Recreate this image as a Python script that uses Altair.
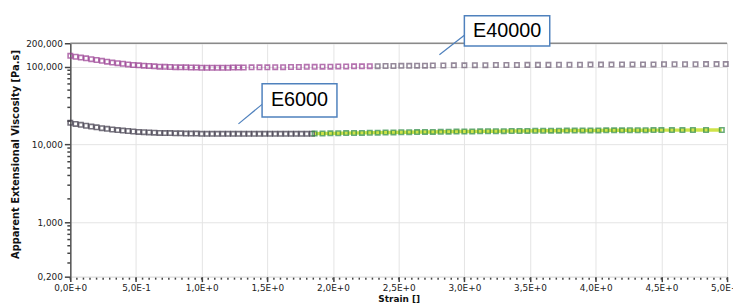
import altair as alt
import pandas as pd

# ---- data ----
strain_e40000 = [0.00, 0.04, 0.08, 0.12, 0.16, 0.20, 0.24, 0.28, 0.32, 0.36, 0.40, 0.44, 0.48, 0.52,
                 0.56, 0.60, 0.64, 0.68, 0.72, 0.76, 0.80, 0.84, 0.88, 0.92, 0.96, 1.00, 1.04, 1.08,
                 1.12, 1.16, 1.20, 1.24, 1.28, 1.32, 1.38, 1.44, 1.50, 1.56, 1.62, 1.68, 1.74, 1.80,
                 1.86, 1.92, 1.98, 2.04, 2.10, 2.16, 2.22, 2.28, 2.34, 2.40, 2.46, 2.52, 2.58, 2.64,
                 2.70, 2.76, 2.84, 2.92, 3.00, 3.08, 3.16, 3.24, 3.32, 3.40, 3.48, 3.56, 3.64, 3.72,
                 3.80, 3.88, 3.96, 4.04, 4.12, 4.20, 4.28, 4.36, 4.44, 4.52, 4.60, 4.68, 4.76, 4.84,
                 4.92, 4.99]
visc_e40000 = [138000, 134000, 131000, 128000, 125000, 122000, 119000, 116000, 113000, 111000,
               109000, 107000, 105000, 104000, 103000, 102000, 101000, 100000, 99500, 99000,
               98500, 98000, 98000, 97500, 97500, 97000, 97000, 97000, 97000, 97000,
               97000, 97500, 97500, 97500, 98000, 98000, 98000, 98500, 98500, 99000,
               99000, 99500, 99500, 100000, 100000, 100500, 100500, 101000, 101000, 101500,
               101500, 102000, 102000, 102500, 102500, 103000, 103000, 103500, 103500, 104000,
               104000, 104500, 104500, 105000, 105000, 105000, 105500, 105500, 105500, 106000,
               106000, 106000, 106500, 106500, 106500, 107000, 107000, 107000, 107000, 107500,
               107500, 107500, 107500, 108000, 108000, 108000]

strain_e6000_a = [0.00, 0.04, 0.08, 0.12, 0.16, 0.20, 0.24, 0.28, 0.32, 0.36, 0.40, 0.44, 0.48, 0.52,
                  0.56, 0.60, 0.64, 0.68, 0.72, 0.76, 0.80, 0.84, 0.88, 0.92, 0.96, 1.00, 1.04, 1.08,
                  1.12, 1.16, 1.20, 1.24, 1.28, 1.32, 1.36, 1.40, 1.44, 1.48, 1.52, 1.56, 1.60, 1.64,
                  1.68, 1.72, 1.76, 1.80, 1.84]
visc_e6000_a = [19000, 18400, 17900, 17400, 17000, 16600, 16200, 15900, 15600, 15300, 15100, 14900,
                14700, 14500, 14400, 14300, 14200, 14100, 14000, 14000, 13900, 13900, 13800, 13800,
                13800, 13700, 13700, 13700, 13700, 13700, 13700, 13700, 13700, 13700, 13700, 13700,
                13700, 13700, 13700, 13700, 13700, 13700, 13700, 13700, 13700, 13700, 13750]

strain_e6000_b = [1.86, 1.92, 1.98, 2.04, 2.10, 2.16, 2.22, 2.28, 2.34, 2.40, 2.46, 2.52, 2.58, 2.64,
                  2.70, 2.76, 2.82, 2.88, 2.94, 3.00, 3.06, 3.12, 3.18, 3.24, 3.30, 3.36, 3.42, 3.48,
                  3.54, 3.60, 3.66, 3.72, 3.78, 3.84, 3.90, 3.96, 4.02, 4.08, 4.14, 4.20, 4.26, 4.32,
                  4.38, 4.44, 4.50, 4.58, 4.66, 4.74, 4.84, 4.96]
visc_e6000_b = [13800, 13850, 13900, 13950, 14000, 14050, 14100, 14150, 14200, 14250, 14300, 14350,
                14400, 14450, 14500, 14500, 14550, 14600, 14650, 14700, 14700, 14750, 14800, 14800,
                14850, 14900, 14900, 14950, 15000, 15000, 15050, 15050, 15100, 15100, 15150, 15150,
                15150, 15200, 15200, 15200, 15250, 15250, 15250, 15300, 15300, 15300, 15300, 15350,
                15350, 15350]

x_tick_values = [0.0, 0.5, 1.0, 1.5, 2.0, 2.5, 3.0, 3.5, 4.0, 4.5, 5.0]
y_tick_values = [200, 1000, 10000, 100000, 200000]
y_minor_values = [300, 400, 500, 600, 700, 800, 900,
                  2000, 3000, 4000, 5000, 6000, 7000, 8000, 9000,
                  20000, 30000, 40000, 50000, 60000, 70000, 80000, 90000]
x_minor_values = [round(i * 0.05, 2) for i in range(101)]

ann_labels = ["E40000", "E6000"]
ann_box_x0 = [3.00, 1.46]
ann_box_x1 = [3.65, 2.03]
ann_box_y0 = [184000, 22500]
ann_box_y1 = [451000, 60300]
ann_text_x = [3.325, 1.745]
ann_text_y = [288000, 36800]
ann_line_x0 = [2.81, 1.28]
ann_line_y0 = [142000, 18400]
ann_line_x1 = [3.00, 1.46]
ann_line_y1 = [253000, 32800]

# ---- tables ----
df40 = pd.DataFrame({"strain": strain_e40000, "visc": visc_e40000})
df6a = pd.DataFrame({"strain": strain_e6000_a, "visc": visc_e6000_a})
df6b = pd.DataFrame({"strain": strain_e6000_b, "visc": visc_e6000_b})
ymin = pd.DataFrame({"visc": y_minor_values})
xmin = pd.DataFrame({"strain": x_minor_values})
top = pd.DataFrame({"visc": [200000]})
ann = pd.DataFrame({
    "label": ann_labels, "bx0": ann_box_x0, "bx1": ann_box_x1, "by0": ann_box_y0,
    "by1": ann_box_y1, "tx": ann_text_x, "ty": ann_text_y, "lx0": ann_line_x0,
    "ly0": ann_line_y0, "lx1": ann_line_x1, "ly1": ann_line_y1,
})

FONT = "DejaVu Sans"
xscale = alt.Scale(domain=[0, 5], nice=False, zero=False)
yscale = alt.Scale(type="log", domain=[200, 200000], nice=False)

xaxis = alt.Axis(
    values=x_tick_values, title="Strain []", grid=True, gridColor="#e4e4e4", gridWidth=1,
    domain=False, tickColor="#444", tickSize=5, tickWidth=1.5,
    labelFont=FONT, labelFontSize=9, labelColor="#222", labelPadding=2, labelFlush=False,
    labelExpr="datum.value == 0 ? '0,0E+0' : (datum.value < 1 ? '5,0E-1' : replace(format(datum.value, '.1f'), '.', ',') + 'E+0')",
    titleFont=FONT, titleFontSize=9, titleFontWeight="bold", titleColor="#111", titlePadding=2,
)
yaxis = alt.Axis(
    values=y_tick_values, title="Apparent Extensional Viscosity [Pa.s]", grid=True,
    gridColor="#e4e4e4", gridWidth=1, domain=True, domainColor="#555", domainWidth=1.5,
    tickColor="#444", tickSize=6, tickWidth=1.5, labelFlush=False,
    labelFont=FONT, labelFontSize=9, labelColor="#222", labelPadding=2,
    labelExpr="datum.value == 200 ? '0,200' : format(datum.value, ',')",
    titleFont=FONT, titleFontSize=10, titleFontWeight="bold", titleColor="#111",
    titleX=-55, titleY=112, titleAngle=-90, titleAlign="center", titleBaseline="middle",
)

X = alt.X("strain:Q", scale=xscale, axis=xaxis)
Y = alt.Y("visc:Q", scale=yscale, axis=yaxis)

top_line = alt.Chart(top).mark_rule(color="#8a8a8a", strokeWidth=1.5).encode(
    x=alt.value(0), x2=alt.value(664), y=Y)

y_minor = alt.Chart(ymin).mark_rule(color="#444", strokeWidth=1.5).encode(
    x=alt.value(-3), x2=alt.value(0), y=Y)

x_minor = alt.Chart(xmin).mark_rule(color="#444", strokeWidth=1.5).encode(
    x=X, y=alt.value(237), y2=alt.value(239))

green_line = alt.Chart(df6b).mark_line(color="#cfe34a", strokeWidth=3.5).encode(x=X, y=Y)

pts40 = alt.Chart(df40).mark_point(shape="square", filled=False, size=20, strokeWidth=1.6).encode(
    x=X, y=Y,
    color=alt.condition(alt.datum.strain < 2.3, alt.value("#97398f"), alt.value("#6a5a72")),
)
pts6a = alt.Chart(df6a).mark_point(shape="square", filled=False, size=20, strokeWidth=1.6,
                                   color="#3d3848").encode(x=X, y=Y)
pts6b = alt.Chart(df6b).mark_point(shape="square", filled=False, size=20, strokeWidth=1.6,
                                   color="#2b8a40").encode(x=X, y=Y)

lead = alt.Chart(ann).mark_rule(color="#4f81bd", strokeWidth=1.2).encode(
    x=alt.X("lx0:Q", scale=xscale, axis=xaxis), x2="lx1:Q",
    y=alt.Y("ly0:Q", scale=yscale, axis=yaxis), y2="ly1:Q")
box = alt.Chart(ann).mark_rect(fill="white", stroke="#4f81bd", strokeWidth=1.5).encode(
    x=alt.X("bx0:Q", scale=xscale, axis=xaxis), x2="bx1:Q",
    y=alt.Y("by0:Q", scale=yscale, axis=yaxis), y2="by1:Q")
txt = alt.Chart(ann).mark_text(font="Liberation Sans", fontSize=20, color="#000",
                               align="center", baseline="middle").encode(
    x=alt.X("tx:Q", scale=xscale, axis=xaxis),
    y=alt.Y("ty:Q", scale=yscale, axis=yaxis), text="label:N")

chart = alt.layer(
    top_line, y_minor, x_minor, green_line, pts40, pts6a, pts6b, lead, box, txt
).properties(
    width=664, height=236,
    autosize=alt.AutoSizeParams(type="none"),
    padding={"left": 63, "top": 34, "right": 6, "bottom": 29},
).configure_view(stroke=None).configure(background="white")

chart.save("out.html", embed_options={"renderer": "svg", "actions": False})
